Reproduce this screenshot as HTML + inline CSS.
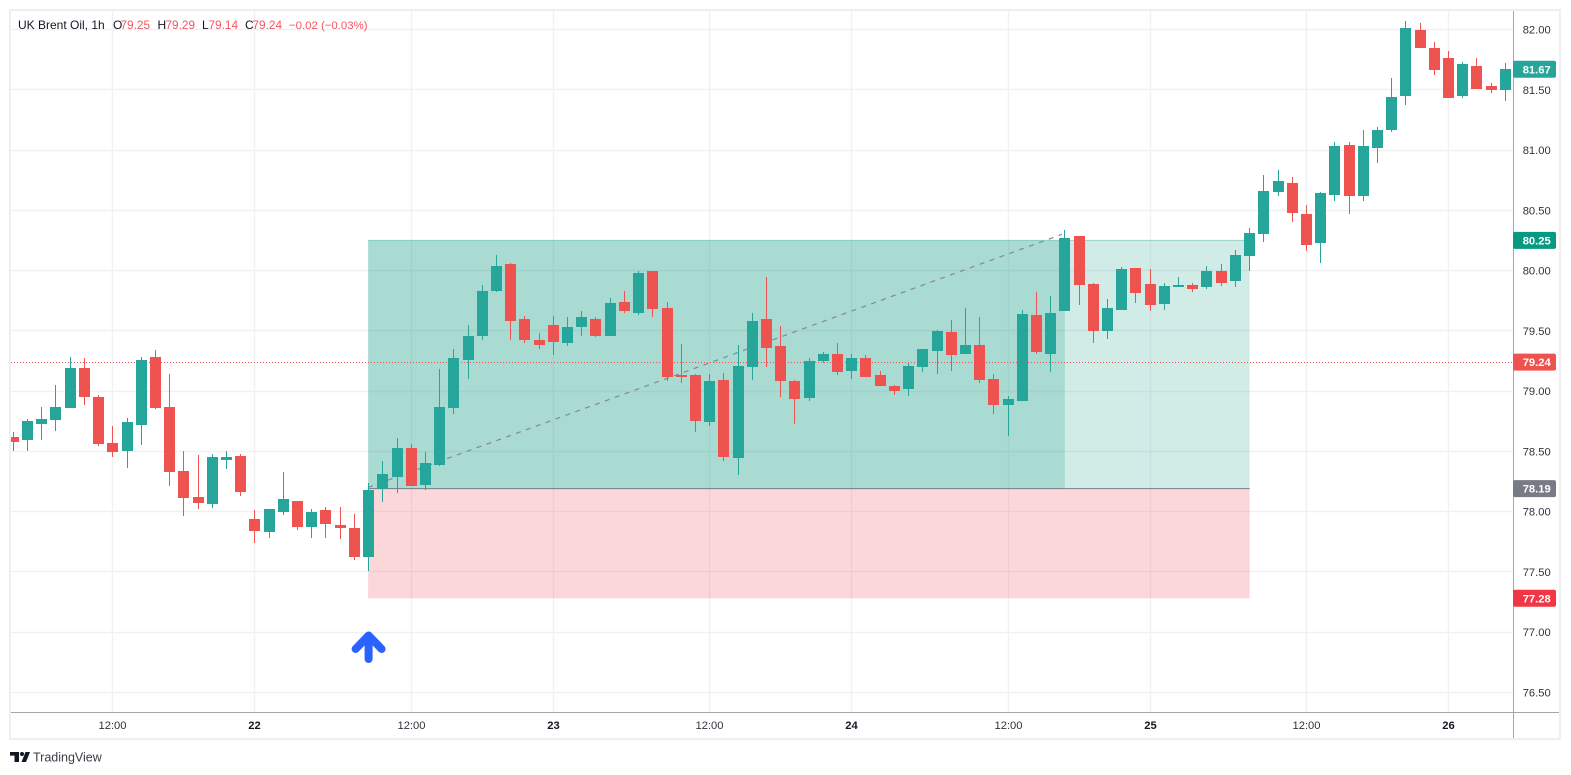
<!DOCTYPE html>
<html lang="en">
<head>
<meta charset="utf-8">
<title>UK Brent Oil, 1h</title>
<style>
html,body{margin:0;padding:0;background:#fff;width:1571px;height:775px;overflow:hidden}
svg{display:block}
text{font-family:"Liberation Sans",sans-serif}
</style>
</head>
<body>
<svg id="chart" xmlns="http://www.w3.org/2000/svg" width="1571" height="775" viewBox="0 0 1571 775">
  <defs>
    <clipPath id="plot-clip"><rect x="11" y="11" width="1502" height="701"></rect></clipPath>
  </defs>
  <rect x="0" y="0" width="1571" height="775" fill="#ffffff"></rect>
  <g id="grid"></g>
  <g id="zones" clip-path="url(#plot-clip)"></g>
  <g id="candles" clip-path="url(#plot-clip)" shape-rendering="crispEdges"></g>
  <g id="axes"></g>
  <rect x="10" y="10" width="1550" height="729" fill="none" stroke="#eeeef3" stroke-width="2"></rect>
  <g font-size="12">
    <text x="18" y="29" fill="#131722">UK Brent Oil, 1h</text>
    <text x="113" y="29" fill="#131722">O</text>
    <text x="120.5" y="29" fill="#f7525f" font-size="11.8">79.25</text>
    <text x="157.5" y="29" fill="#131722">H</text>
    <text x="165.5" y="29" fill="#f7525f" font-size="11.8">79.29</text>
    <text x="202" y="29" fill="#131722">L</text>
    <text x="208.5" y="29" fill="#f7525f" font-size="11.8">79.14</text>
    <text x="245" y="29" fill="#131722">C</text>
    <text x="252.5" y="29" fill="#f7525f" font-size="11.8">79.24</text>
    <text x="289" y="29" fill="#f7525f" font-size="11.4">−0.02 (−0.03%)</text>
  </g>
  <g>
    <path d="M10 752h9v10h-4.5v-6.4H10zM25.5 752H30l-4 10h-4.5z" fill="#131722"></path>
    <circle cx="22" cy="754" r="2" fill="#131722"></circle>
    <text x="33" y="761.5" font-size="12.5" fill="#3a3d46">TradingView</text>
  </g>
</svg>
<script>
// Hourly candles
const opens = [78.62,78.59,78.73,78.76,78.86,79.19,78.95,78.57,78.50,78.72,79.28,78.87,78.34,78.12,78.06,78.43,78.46,77.94,77.83,78.00,78.09,77.87,78.01,77.89,77.86,77.62,78.19,78.29,78.53,78.22,78.39,78.86,79.26,79.46,79.83,80.05,79.60,79.42,79.55,79.40,79.53,79.60,79.46,79.74,79.65,80.00,79.69,79.13,79.13,78.74,79.09,78.44,79.20,79.60,79.37,79.08,78.94,79.25,79.31,79.17,79.27,79.13,79.04,79.02,79.20,79.33,79.49,79.31,79.38,79.10,78.88,78.92,79.63,79.31,79.66,80.29,79.89,79.50,79.67,80.02,79.89,79.72,79.86,79.88,79.86,80.00,79.91,80.12,80.30,80.65,80.73,80.47,80.23,80.63,81.04,80.62,81.02,81.17,81.45,82.00,81.85,81.76,81.45,81.70,81.53,81.50];
const highs = [78.66,78.77,78.87,79.05,79.28,79.27,78.97,78.71,78.78,79.28,79.34,79.14,78.50,78.47,78.48,78.50,78.48,78.01,78.02,78.33,78.09,78.02,78.04,78.04,77.98,78.24,78.42,78.61,78.56,78.49,79.18,79.35,79.55,79.88,80.13,80.06,79.62,79.48,79.62,79.61,79.66,79.61,79.77,79.83,80.00,80.00,79.74,79.39,79.14,79.14,79.15,79.38,79.65,79.95,79.54,79.09,79.27,79.32,79.40,79.31,79.30,79.17,79.05,79.23,79.35,79.51,79.59,79.69,79.61,79.14,78.96,79.67,79.82,79.79,80.34,80.29,79.90,79.76,80.03,80.02,80.01,79.90,79.95,79.90,80.04,80.05,80.17,80.35,80.79,80.83,80.78,80.54,80.65,81.07,81.07,81.17,81.19,81.60,82.07,82.05,81.90,81.82,81.73,81.76,81.56,81.72];
const lows = [78.50,78.50,78.59,78.67,78.86,78.88,78.54,78.45,78.36,78.55,78.85,78.21,77.96,78.02,78.03,78.35,78.13,77.74,77.78,77.97,77.85,77.78,77.78,77.77,77.60,77.51,78.08,78.15,78.21,78.18,78.38,78.81,79.10,79.42,79.82,79.42,79.40,79.35,79.30,79.37,79.46,79.45,79.46,79.65,79.63,79.61,79.08,79.07,78.66,78.71,78.42,78.30,79.09,79.20,78.95,78.73,78.92,79.23,79.13,79.10,79.12,79.04,78.97,78.96,79.16,79.14,79.17,79.31,79.07,78.81,78.63,78.92,79.31,79.16,79.66,79.71,79.40,79.43,79.67,79.73,79.66,79.67,79.86,79.82,79.85,79.87,79.86,80.00,80.24,80.62,80.40,80.16,80.06,80.58,80.47,80.58,80.89,81.15,81.37,81.85,81.62,81.43,81.43,81.51,81.47,81.41];
const closes = [78.58,78.75,78.77,78.87,79.19,78.95,78.56,78.49,78.74,79.26,78.86,78.33,78.11,78.07,78.45,78.45,78.16,77.84,78.02,78.10,77.87,78.00,77.90,77.86,77.62,78.18,78.31,78.53,78.21,78.40,78.87,79.27,79.46,79.83,80.04,79.58,79.42,79.38,79.41,79.53,79.61,79.46,79.73,79.66,79.98,79.68,79.12,79.12,78.75,79.08,78.45,79.21,79.58,79.36,79.08,78.93,79.25,79.31,79.16,79.27,79.12,79.04,79.00,79.21,79.35,79.50,79.30,79.38,79.09,78.88,78.93,79.64,79.32,79.65,80.27,79.88,79.50,79.69,80.01,79.81,79.71,79.87,79.88,79.85,80.00,79.90,80.13,80.31,80.66,80.74,80.48,80.21,80.64,81.03,80.62,81.03,81.17,81.44,82.01,81.85,81.66,81.43,81.71,81.51,81.50,81.67];

// Axis ticks
const priceTicks = ["82.00","81.50","81.00","80.50","80.00","79.50","79.00","78.50","78.00","77.50","77.00","76.50"];
const timeLabels = ["12:00","22","12:00","23","12:00","24","12:00","25","12:00","26"];
const timeTickBars = [7,17,28,38,49,59,70,80,91,101];

// Position tool and price lines
const entryPrice = 78.19;
const targetPrice = 80.25;
const stopPrice = 77.28;
const positionStartBar = 25;
const positionMidBar = 74;
const positionEndBar = 87;
const trendStartPrice = 78.20;
const trendEndPrice = 80.30;
const lastPrice = 79.24;
const lastPriceLabel = "79.24";
const highBarPrice = "81.67";
const highBarValue = 81.67;

const NS = "http://www.w3.org/2000/svg";
const xScale = function (bar) { return 13.35 + 14.21 * bar; };
const yScale = function (price) { return 29.5 + (82 - price) * 120.5; };

function mk(parent, tag, attrs, text) {
  const el = document.createElementNS(NS, tag);
  for (const k in attrs) el.setAttribute(k, attrs[k]);
  if (text !== undefined) el.textContent = text;
  parent.appendChild(el);
  return el;
}

const grid = document.getElementById("grid");
const zones = document.getElementById("zones");
const candles = document.getElementById("candles");
const axes = document.getElementById("axes");

// Grid
priceTicks.forEach(function (t) {
  const y = Math.floor(yScale(parseFloat(t)));
  const line = mk(grid, "line", { x1: 11, x2: 1513, y1: y + 0.5, y2: y + 0.5, stroke: "#f1f1f4", "stroke-width": 1.4 });
  
  
});
timeTickBars.forEach(function (b) {
  const x = Math.floor(xScale(b));
  const line = mk(grid, "line", { x1: x + 0.5, x2: x + 0.5, y1: 11, y2: 712, stroke: "#f1f1f4", "stroke-width": 1.4 });
  
  
});

// Position zones
const zx0 = xScale(positionStartBar) - 0.5;
const zx1 = xScale(positionMidBar);
const zx2 = xScale(positionEndBar);
const yTarget = yScale(targetPrice);
const yEntry = yScale(entryPrice);
const yStop = yScale(stopPrice);

const profitDark = mk(zones, "rect", { x: zx0, y: yTarget, width: zx1 - zx0, height: yEntry - yTarget, fill: "rgba(8,153,129,0.35)" });



const profitLight = mk(zones, "rect", { x: zx1, y: yTarget, width: zx2 - zx1, height: yEntry - yTarget, fill: "rgba(8,153,129,0.19)" });



const lossZone = mk(zones, "rect", { x: zx0, y: yEntry, width: zx2 - zx0, height: yStop - yEntry, fill: "rgba(242,54,69,0.2)" });



const targetLine = mk(zones, "line", { x1: zx0, x2: zx2, y1: yTarget, y2: yTarget, stroke: "rgba(8,153,129,0.35)", "stroke-width": 1 });



const entryLine = mk(zones, "line", { x1: zx0, x2: zx2, y1: yEntry, y2: yEntry, stroke: "#787b86", "stroke-width": 1 });



const trendLine = mk(zones, "line", { x1: zx0, x2: zx1 - 3, y1: yScale(trendStartPrice), y2: yScale(trendEndPrice), stroke: "#858891", "stroke-width": 1.2, "stroke-dasharray": "5 5.5" });



const priceLine = mk(zones, "line", { x1: 11, x2: 1513, y1: Math.floor(yScale(lastPrice)) + 0.5, y2: Math.floor(yScale(lastPrice)) + 0.5, stroke: "#ef5350", "stroke-width": 1, "stroke-dasharray": "1 2" });



// Candles
opens.forEach(function (o, i) {
  const c = closes[i];
  const up = c >= o;
  const col = up ? "#26a69a" : "#ef5350";
  const wx = Math.floor(xScale(i));
  const yT = Math.round(yScale(Math.max(o, c)));
  let yB = Math.round(yScale(Math.min(o, c)));
  if (yB - yT < 2) yB = yT + 2;
  const yH = Math.min(Math.round(yScale(highs[i])), yT);
  const yL = Math.max(Math.round(yScale(lows[i])), yB);
  const g = mk(candles, "g", {});
  
  
  const wick = mk(g, "rect", { x: wx, y: yH, width: 1, height: yL - yH, fill: col });
  
  
  const body = mk(g, "rect", { x: wx - 5, y: yT, width: 11, height: yB - yT, fill: col });
  
  
});

// Entry arrow
const ax = xScale(positionStartBar);
const arrow = mk(axes, "path", { d: "M" + (ax - 13) + " 649L" + ax + " 635.5L" + (ax + 13) + " 649M" + ax + " 637V659", fill: "none", stroke: "#2962ff", "stroke-width": 8, "stroke-linecap": "round", "stroke-linejoin": "round" });



// Axis lines
const axisV = mk(axes, "line", { x1: 1513.5, x2: 1513.5, y1: 10, y2: 739, stroke: "#a5a5ab", "stroke-width": 1 });


const axisH = mk(axes, "line", { x1: 10, x2: 1560, y1: 712.5, y2: 712.5, stroke: "#a5a5ab", "stroke-width": 1 });



// Axis labels
priceTicks.forEach(function (t) {
  const label = mk(axes, "text", { x: 1536.7, y: yScale(parseFloat(t)) + 4, "text-anchor": "middle", "font-size": 11.2, fill: "#30333c" }, t);
  
  
});
timeLabels.forEach(function (t, i) {
  const isDay = t.indexOf(":") < 0;
  const label = mk(axes, "text", { x: Math.floor(xScale(timeTickBars[i])) + 0.5, y: 729, "text-anchor": "middle", "font-size": 11.2, "font-weight": isDay ? "bold" : "normal", fill: isDay ? "#131722" : "#30333c" }, t);
  
  
});

// Price pills
function pill(value, text, color, name) {
  const yc = yScale(value);
  const g = mk(axes, "g", {});
  
  
  const r = mk(g, "rect", { x: 1513, y: yc - 8.5, width: 43, height: 17, rx: 2, fill: color });
  
  
  const tx = mk(g, "text", { x: 1536.7, y: yc + 4, "text-anchor": "middle", "font-size": 11.2, "font-weight": "bold", fill: "#ffffff" }, text);
  
  
}
pill(highBarValue, highBarPrice, "#26a69a", "current-bar-price-label");
pill(targetPrice, targetPrice.toFixed(2), "#089981", "target-price-label");
pill(lastPrice, lastPriceLabel, "#ef5350", "last-price-label");
pill(entryPrice, entryPrice.toFixed(2), "#787b86", "entry-price-label");
pill(stopPrice, stopPrice.toFixed(2), "#f23645", "stop-price-label");
</script>
</body>
</html>
